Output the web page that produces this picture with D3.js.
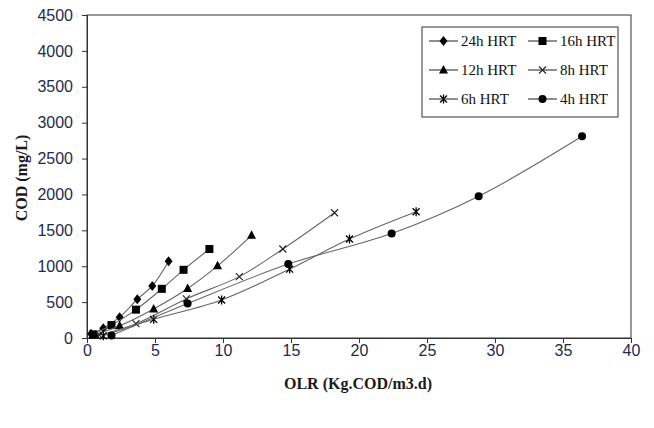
<!DOCTYPE html>
<html>
<head>
<meta charset="utf-8">
<script src="https://cdn.jsdelivr.net/npm/d3@7"></script>
<style>
  body { margin: 0; background: #fff; }
  svg { display: block; }
</style>
</head>
<body>
<svg id="chart"></svg>
<script>
// series labels, in legend order
const seriesNames = ["24h HRT", "16h HRT", "12h HRT", "8h HRT", "6h HRT", "4h HRT"];

// OLR values (Kg.COD/m3.d)
const olr24 = [0.3, 1.2, 2.4, 3.7, 4.8, 6.0];
const olr16 = [0.45, 1.8, 3.6, 5.5, 7.1, 9.0];
const olr12 = [0.6, 2.4, 4.9, 7.4, 9.6, 12.1];
const olr8  = [0.9, 3.6, 7.3, 11.2, 14.4, 18.2];
const olr6  = [1.2, 4.9, 9.9, 14.9, 19.3, 24.2];
const olr4  = [1.8, 7.4, 14.8, 22.4, 28.8, 36.4];

// COD values (mg/L)
const cod24 = [60, 135, 290, 540, 725, 1070];
const cod16 = [50, 180, 395, 685, 950, 1240];
const cod12 = [45, 170, 405, 690, 1005, 1430];
const cod8  = [40, 200, 545, 855, 1240, 1745];
const cod6  = [30, 260, 530, 960, 1380, 1760];
const cod4  = [35, 480, 1030, 1455, 1975, 2810];

const xTicks = [0, 5, 10, 15, 20, 25, 30, 35, 40];
const yTicks = [0, 500, 1000, 1500, 2000, 2500, 3000, 3500, 4000, 4500];

const olrs = [olr24, olr16, olr12, olr8, olr6, olr4];
const cods = [cod24, cod16, cod12, cod8, cod6, cod4];
const markers = ["diamond", "square", "triangle", "x", "star", "circle"];

const series = seriesNames.map((name, i) => ({
    name: name,
    marker: markers[i],
    points: olrs[i].map((x, j) => ({ x: x, y: cods[i][j] }))
}));

const dimensions = {
    width: 654,
    height: 428,
    margin: { top: 15, right: 23, bottom: 90, left: 87 }
};
const innerW = dimensions.width - dimensions.margin.left - dimensions.margin.right;
const innerH = dimensions.height - dimensions.margin.top - dimensions.margin.bottom;

const svg = d3.select("#chart")
    .attr("width", dimensions.width)
    .attr("height", dimensions.height);

const g = svg.append("g")
    .attr("transform", `translate(${dimensions.margin.left}, ${dimensions.margin.top})`);

const xScale = d3.scaleLinear().domain([0, 40]).range([0, innerW]);
const yScale = d3.scaleLinear().domain([0, 4500]).range([innerH, 0]);

// frame
g.append("rect")
    .attr("width", innerW)
    .attr("height", innerH)
    .attr("fill", "none")
    .attr("stroke", "#333")
    .attr("stroke-width", 1);

const tickColor = "#1d2b4f";

// y axis
const yAxis = g.append("g")
    .call(d3.axisLeft(yScale).tickValues(yTicks).tickFormat(d3.format("d")).tickSize(5).tickPadding(9));
yAxis.select(".domain").attr("stroke", "#333");
yAxis.selectAll(".tick line").attr("stroke", "#333");
yAxis.selectAll("text")
    .attr("fill", tickColor)
    .style("font-family", "Liberation Sans, Arial, sans-serif")
    .style("font-size", "16px");

// x axis
const xAxis = g.append("g")
    .attr("transform", `translate(0, ${innerH})`)
    .call(d3.axisBottom(xScale).tickValues(xTicks).tickFormat(d3.format("d")).tickSize(5).tickPadding(2));
xAxis.select(".domain").attr("stroke", "#333");
xAxis.selectAll(".tick line").attr("stroke", "#333");
xAxis.selectAll("text")
    .attr("fill", tickColor)
    .style("font-family", "Liberation Sans, Arial, sans-serif")
    .style("font-size", "16px");

// axis titles
svg.append("text")
    .attr("transform", "translate(27, 178) rotate(-90)")
    .attr("text-anchor", "middle")
    .style("font-family", "Liberation Serif, Times New Roman, serif")
    .style("font-weight", "bold")
    .style("font-size", "16px")
    .attr("fill", "#1a1a1a")
    .text("COD (mg/L)");

svg.append("text")
    .attr("x", 358)
    .attr("y", 389)
    .attr("text-anchor", "middle")
    .style("font-family", "Liberation Serif, Times New Roman, serif")
    .style("font-weight", "bold")
    .style("font-size", "16px")
    .attr("fill", "#1a1a1a")
    .text("OLR (Kg.COD/m3.d)");

// marker drawing
function drawMarker(sel, type) {
    if (type === "diamond") {
        sel.append("path").attr("d", "M0,-5L4,0L0,5L-4,0Z").attr("fill", "#000");
    } else if (type === "square") {
        sel.append("rect").attr("x", -4).attr("y", -4).attr("width", 8).attr("height", 8).attr("fill", "#000");
    } else if (type === "triangle") {
        sel.append("path").attr("d", "M0,-5L4.5,3.5L-4.5,3.5Z").attr("fill", "#000");
    } else if (type === "x") {
        sel.append("path").attr("d", "M-3.5,-3.5L3.5,3.5M-3.5,3.5L3.5,-3.5")
            .attr("stroke", "#222").attr("stroke-width", 1.1).attr("fill", "none");
    } else if (type === "star") {
        sel.append("path").attr("d", "M-3.5,-3.5L3.5,3.5M-3.5,3.5L3.5,-3.5M0,-4.5L0,4.5")
            .attr("stroke", "#000").attr("stroke-width", 1.3).attr("fill", "none");
    } else if (type === "circle") {
        sel.append("circle").attr("r", 4).attr("fill", "#000");
    }
}

const line = d3.line()
    .x(d => xScale(d.x))
    .y(d => yScale(d.y))
    .curve(d3.curveCatmullRom.alpha(0.5));

const seriesG = g.selectAll(".series")
    .data(series)
    .enter()
    .append("g")
    .attr("class", "series");

seriesG.append("path")
    .attr("d", d => line(d.points))
    .attr("fill", "none")
    .attr("stroke", "#666")
    .attr("stroke-width", 1.1);

seriesG.each(function(s) {
    d3.select(this).selectAll(".pt")
        .data(s.points)
        .enter()
        .append("g")
        .attr("class", "pt")
        .attr("transform", d => `translate(${xScale(d.x)}, ${yScale(d.y)})`)
        .each(function() { drawMarker(d3.select(this), s.marker); });
});

// legend
const legend = svg.append("g").attr("transform", "translate(422, 27)");
legend.append("rect")
    .attr("width", 196)
    .attr("height", 90)
    .attr("fill", "#fff")
    .attr("stroke", "#333")
    .attr("stroke-width", 1);

const legendItems = legend.selectAll(".legend")
    .data(series)
    .enter()
    .append("g")
    .attr("class", "legend")
    .attr("transform", (d, i) => `translate(${i % 2 === 0 ? 7 : 106}, ${14 + Math.floor(i / 2) * 29})`);

legendItems.append("line")
    .attr("x1", 0).attr("x2", 29)
    .attr("stroke", "#333")
    .attr("stroke-width", 1.1);

legendItems.append("g")
    .attr("transform", "translate(14.5, 0)")
    .each(function(d) { drawMarker(d3.select(this), d.marker); });

legendItems.append("text")
    .attr("x", 32)
    .attr("y", 5)
    .style("font-family", "Liberation Serif, Times New Roman, serif")
    .style("font-size", "15px")
    .attr("fill", "#111")
    .text(d => d.name);
</script>
</body>
</html>
